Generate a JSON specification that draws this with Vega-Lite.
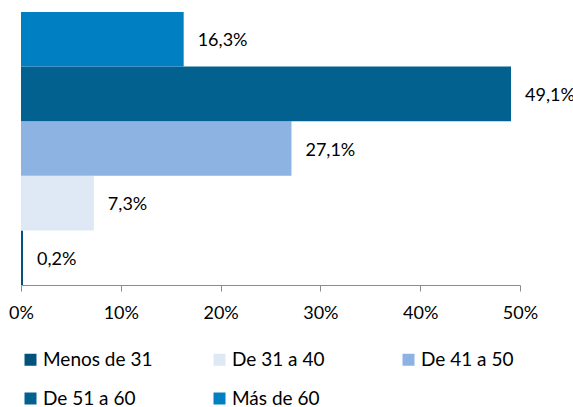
{
  "$schema": "https://vega.github.io/schema/vega-lite/v6.json",
  "width": 499,
  "height": 273,
  "autosize": {"type": "none"},
  "padding": {"left": 21, "top": 12, "right": 53, "bottom": 122},
  "config": {
    "locale": {"number": {"decimal": ",", "thousands": ".", "grouping": [3], "currency": ["", " €"]}},
    "view": {"stroke": null},
    "font": "Lato"
  },
  "data": {
    "values": [
      {"grupo": "Menos de 31", "valor": 0.002},
      {"grupo": "De 31 a 40", "valor": 0.073},
      {"grupo": "De 41 a 50", "valor": 0.271},
      {"grupo": "De 51 a 60", "valor": 0.491},
      {"grupo": "Más de 60", "valor": 0.163}
    ]
  },
  "encoding": {
    "y": {
      "field": "grupo",
      "type": "nominal",
      "sort": ["Más de 60", "De 51 a 60", "De 41 a 50", "De 31 a 40", "Menos de 31"],
      "scale": {"paddingInner": 0, "paddingOuter": 0},
      "axis": null
    },
    "x": {
      "field": "valor",
      "type": "quantitative",
      "scale": {"domain": [0, 0.5], "nice": false},
      "axis": {
        "title": null,
        "format": ".0%",
        "values": [0, 0.1, 0.2, 0.3, 0.4, 0.5],
        "grid": false,
        "domainColor": "#8c8c8c",
        "tickColor": "#8c8c8c",
        "tickSize": 6,
        "labelFontSize": 18,
        "labelColor": "#000000",
        "labelPadding": 13,
        "labelFlush": false,
        "labelOverlap": false
      }
    }
  },
  "layer": [
    {
      "mark": {"type": "bar"},
      "encoding": {
        "color": {
          "field": "grupo",
          "type": "nominal",
          "scale": {
            "domain": ["Menos de 31", "De 31 a 40", "De 41 a 50", "De 51 a 60", "Más de 60"],
            "range": ["#03527e", "#dfe8f5", "#8db3e2", "#02618f", "#0080c3"]
          },
          "legend": {
            "title": null,
            "orient": "bottom",
            "direction": "horizontal",
            "columns": 3,
            "gridAlign": "all",
            "columnPadding": 57,
            "rowPadding": 19,
            "offset": 28,
            "symbolType": "square",
            "symbolSize": 144,
            "symbolStrokeWidth": 0,
            "symbolOpacity": 1,
            "labelFontSize": 19,
            "labelColor": "#000000",
            "labelOffset": 3
          }
        }
      }
    },
    {
      "mark": {"type": "text", "align": "left", "dx": 14, "dy": 2, "fontSize": 18, "color": "#000000"},
      "encoding": {
        "text": {"field": "valor", "type": "quantitative", "format": ".1%"}
      }
    }
  ]
}
